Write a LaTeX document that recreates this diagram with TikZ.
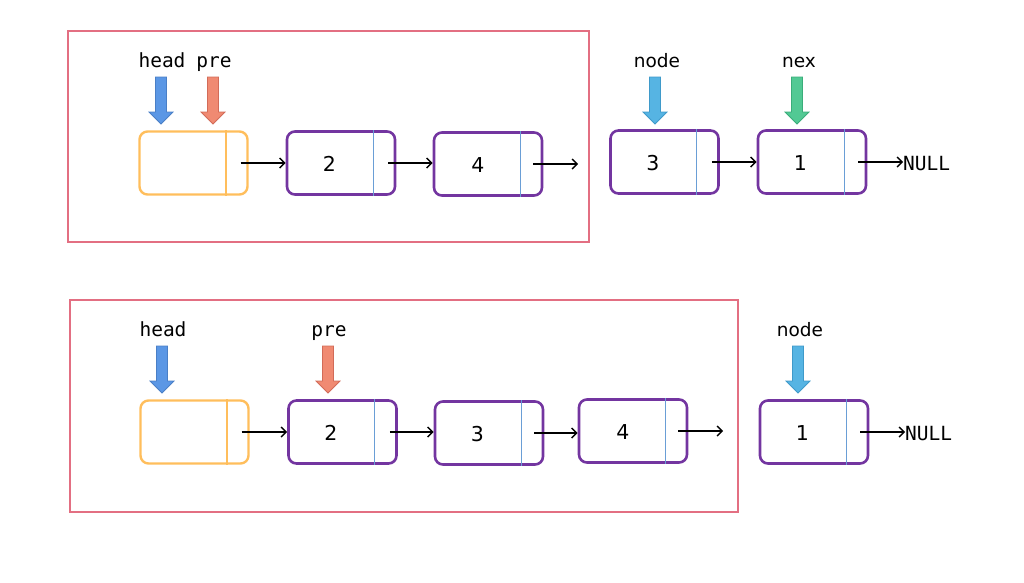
\documentclass[tikz,border=0pt]{standalone}
\usepackage{fontspec}
\setmainfont{DejaVu Sans}
\newfontfamily\monofont{DejaVu Sans Mono}
\usetikzlibrary{arrows.meta}
\definecolor{purp}{HTML}{7335A0}
\definecolor{orng}{HTML}{FFBE5C}
\definecolor{frame}{HTML}{E36F82}
\definecolor{divc}{HTML}{6A9ED6}
\definecolor{hfill}{HTML}{5B97E5}\definecolor{hdraw}{HTML}{4A7FC6}
\definecolor{pfill}{HTML}{F08A72}\definecolor{pdraw}{HTML}{D26B58}
\definecolor{nfill}{HTML}{56B4E3}\definecolor{ndraw}{HTML}{3F9ACA}
\definecolor{xfill}{HTML}{52C994}\definecolor{xdraw}{HTML}{3AAD7A}
\tikzset{
  lbox/.style={draw=purp,line width=2.6pt,rounded corners=8pt,minimum width=108pt,minimum height=63pt,inner sep=0pt},
  hbox/.style={draw=orng,line width=2.4pt,rounded corners=8pt,minimum width=108pt,minimum height=63pt,inner sep=0pt},
  numtxt/.style={font=\fontsize{20.5}{20.5}\selectfont,inner sep=0pt},
  montxt/.style={font=\monofont\fontsize{19.5}{19.5}\selectfont,inner sep=0pt,anchor=base},
  sanstxt/.style={font=\fontsize{18.5}{18.5}\selectfont,inner sep=0pt,anchor=base},
  nulltxt/.style={font=\monofont\fontsize{19.5}{19.5}\selectfont,inner sep=0pt,anchor=west},
  link/.style={line width=1.4pt,-{Straight Barb[length=5pt,width=10pt]}},
  divline/.style={draw=divc,line width=1pt},
  hdiv/.style={draw=orng,line width=2.4pt},
  framebox/.style={draw=frame,line width=1.5pt},
  ptrarr/.pic={\path[pic actions,line width=0.8pt]
    (-5.5,-47) -- (5.5,-47) -- (5.5,-12) -- (12,-12) -- (0,0) -- (-12,-12) -- (-5.5,-12) -- cycle;}
}
\begin{document}
\begin{tikzpicture}[x=1pt,y=-1pt]
\useasboundingbox (0,0) rectangle (1024,582);
% frames
\draw[framebox] (68,31) rectangle (589,242);
\draw[framebox] (70,300) rectangle (738,512);

% ---------- top row ----------
\node[hbox] (th) at (193.5,163) {};
\node[lbox] (t2) at (341,163) {};
\node[lbox] (t4) at (488,164) {};
\node[lbox] (t3) at (664.5,162) {};
\node[lbox] (t1) at (812,162) {};
\draw[hdiv] ([xshift=-23pt]th.north east) -- ([xshift=-23pt]th.south east);
\foreach \b in {t2,t4,t3,t1}{\draw[divline] ([xshift=-23pt]\b.north east) -- ([xshift=-23pt]\b.south east);}
\node[numtxt] (t2n) at ([xshift=-11.5pt,yshift=-1pt]t2.center) {2};
\node[numtxt] (t4n) at ([xshift=-10pt,yshift=-1pt]t4.center) {4};
\node[numtxt] (t3n) at ([xshift=-11.5pt,yshift=-1pt]t3.center) {3};
\node[numtxt] (t1n) at ([xshift=-11.5pt,yshift=-1pt]t1.center) {1};
\coordinate (tfree) at (578,164);
\node[nulltxt] (tnull) at (903,164) {NULL};
\draw[link] ([xshift=-8pt]th.east) -- (th.east -| t2.west);
\draw[link] ([xshift=-8pt]t2.east) -- (t2.east -| t4.west);
\draw[link] ([xshift=-10pt]t4.east) -- (tfree);
\draw[link] ([xshift=-8pt]t3.east) -- (t3.east -| t1.west);
\draw[link] ([xshift=-9pt]t1.east) -- (t1.east -| tnull.west);
% pointers
\node[montxt] (lth) at (162,67) {head};
\node[montxt] (ltp) at (214,67) {pre};
\node[sanstxt] (ltn) at (657,67) {node};
\node[sanstxt] (ltx) at (799,67) {nex};
\pic[fill=hfill,draw=hdraw] (pth) at (161,124) {ptrarr};
\pic[fill=pfill,draw=pdraw] (ptp) at (213,124) {ptrarr};
\pic[fill=nfill,draw=ndraw] (ptn) at (655,124) {ptrarr};
\pic[fill=xfill,draw=xdraw] (ptx) at (797,124) {ptrarr};

% ---------- bottom row ----------
\node[hbox] (bh) at (194.5,432) {};
\node[lbox] (b2) at (342.5,432) {};
\node[lbox] (b3) at (489,433) {};
\node[lbox] (b4) at (633,431) {};
\node[lbox] (b1) at (814,432) {};
\draw[hdiv] ([xshift=-23pt]bh.north east) -- ([xshift=-23pt]bh.south east);
\foreach \b in {b2,b3,b4,b1}{\draw[divline] ([xshift=-23pt]\b.north east) -- ([xshift=-23pt]\b.south east);}
\node[numtxt] (b2n) at ([xshift=-11.5pt,yshift=-1pt]b2.center) {2};
\node[numtxt] (b3n) at ([xshift=-11.5pt,yshift=-1pt]b3.center) {3};
\node[numtxt] (b4n) at ([xshift=-10pt,yshift=-1pt]b4.center) {4};
\node[numtxt] (b1n) at ([xshift=-11.5pt,yshift=-1pt]b1.center) {1};
\coordinate (bfree) at (723,431);
\node[nulltxt] (bnull) at (905,434) {NULL};
\draw[link] ([xshift=-8pt]bh.east) -- (bh.east -| b2.west);
\draw[link] ([xshift=-8pt]b2.east) -- (b2.east -| b3.west);
\draw[link] ([xshift=-10pt]b3.east) -- (b3.east -| b4.west);
\draw[link] ([xshift=-10pt]b4.east) -- (bfree);
\draw[link] ([xshift=-9pt]b1.east) -- (b1.east -| bnull.west);
\node[montxt] (lbh) at (163,336) {head};
\node[montxt] (lbp) at (329,336) {pre};
\node[sanstxt] (lbn) at (800,336) {node};
\pic[fill=hfill,draw=hdraw] (pbh) at (162,393) {ptrarr};
\pic[fill=pfill,draw=pdraw] (pbp) at (328,393) {ptrarr};
\pic[fill=nfill,draw=ndraw] (pbn) at (798,393) {ptrarr};
\end{tikzpicture}
\end{document}
